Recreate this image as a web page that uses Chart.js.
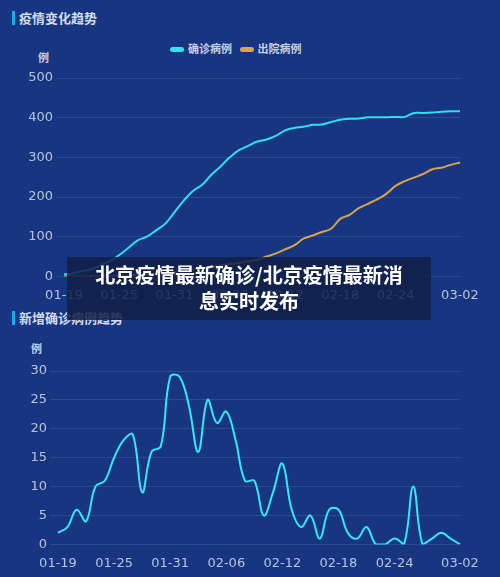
<!DOCTYPE html>
<html><head><meta charset="utf-8">
<script src="https://cdn.jsdelivr.net/npm/chart.js@4"></script>
<style>
body{margin:0;width:500px;height:577px;background:#173580;overflow:hidden;position:relative;font-family:"Noto Sans CJK SC",sans-serif}
.t{position:absolute;left:12px;color:#d4dcec;font-size:13px;font-weight:bold;border-left:3px solid #1fa9e8;padding-left:4px;line-height:14px}
.u{position:absolute;color:#c8d0e4;font-size:11px;font-weight:bold}
#c1,#c2{position:absolute;left:0}
.ban{position:absolute;left:67px;top:257px;width:364px;height:63px;background:rgba(18,30,70,0.85);color:#fff;font-size:20px;font-weight:bold;text-align:center;line-height:26px;padding-top:5px;box-sizing:border-box}
.lg{position:absolute;top:40px;left:170px;font-size:11px;color:#c8d0e4;font-weight:bold}
.lg span.b{display:inline-block;width:14px;height:5px;border-radius:3px;vertical-align:middle;margin:0 4px 2px 0}
</style></head><body>
<div class="t" style="top:11px">疫情变化趋势</div>
<div class="lg"><span class="b" style="background:#2ee6f2"></span>确诊病例 &nbsp; <span class="b" style="background:#e0a443"></span>出院病例</div>
<div class="u" style="left:38px;top:49px">例</div>
<div class="t" style="top:311px">新增确诊病例趋势</div>
<div class="u" style="left:31px;top:340px">例</div>
<canvas id="c1" width="500" height="300" style="top:6px"></canvas>
<canvas id="c2" width="500" height="294" style="top:280px"></canvas>
<div class="ban">北京疫情最新确诊/北京疫情最新消<br>息实时发布</div>
<script>
const dates=["01-19","01-20","01-21","01-22","01-23","01-24","01-25","01-26","01-27","01-28","01-29","01-30","01-31","02-01","02-02","02-03","02-04","02-05","02-06","02-07","02-08","02-09","02-10","02-11","02-12","02-13","02-14","02-15","02-16","02-17","02-18","02-19","02-20","02-21","02-22","02-23","02-24","02-25","02-26","02-27","02-28","02-29","03-01","03-02"];
const confirmed=[5,8,14,18,28,39,54,72,91,100,116,133,162,191,215,231,256,277,300,318,329,340,345,354,368,374,377,382,383,389,395,397,398,401,401,401,402,402,412,412,413,415,416,416];
const discharged=[0,0,0,0,1,1,2,2,4,5,7,9,12,15,18,22,25,28,31,34,38,42,50,58,68,78,95,103,112,120,145,155,172,183,194,208,228,240,249,258,270,274,281,287];
const newCases=[2,3,6,4,10,11,15,18,19,9,16,17,29,29,24,16,25,21,23,18,11,11,5,9,14,6,3,5,1,6,6,2,1,3,0,0,1,0,10,0,1,2,1,0];
const tickCol='#b9c3dc';
function opts(max,step,top,w){return{responsive:false,animation:false,
 layout:{padding:{top:top,right:40,left:8,bottom:0}},
 plugins:{legend:{display:false},tooltip:{enabled:false}},
 scales:{x:{grid:{display:false},border:{display:false},
  ticks:{color:tickCol,font:{size:13,family:"DejaVu Sans"},autoSkip:false,maxRotation:0,
   callback:(v,i)=>(i%6===0&&i!==42)||i===43?dates[i]:''}},
  y:{min:0,max:max,grid:{color:'rgba(140,160,220,0.18)'},border:{display:false},
   afterFit:s=>{s.width=w},
   ticks:{stepSize:step,color:tickCol,font:{size:13,family:"DejaVu Sans"}}}}}}
function ds(d,c){return{data:d,borderColor:c,borderWidth:2,pointRadius:0,tension:0.4,fill:false}}
new Chart(document.getElementById('c1'),{type:'line',data:{labels:dates,datasets:[ds(confirmed,'#2ee0ee'),ds(discharged,'#d9a446')]},options:opts(500,100,72,56)});
new Chart(document.getElementById('c2'),{type:'line',data:{labels:dates,datasets:[ds(newCases,'#34e8f4')]},options:opts(30,5,91,50)});
</script></body></html>
